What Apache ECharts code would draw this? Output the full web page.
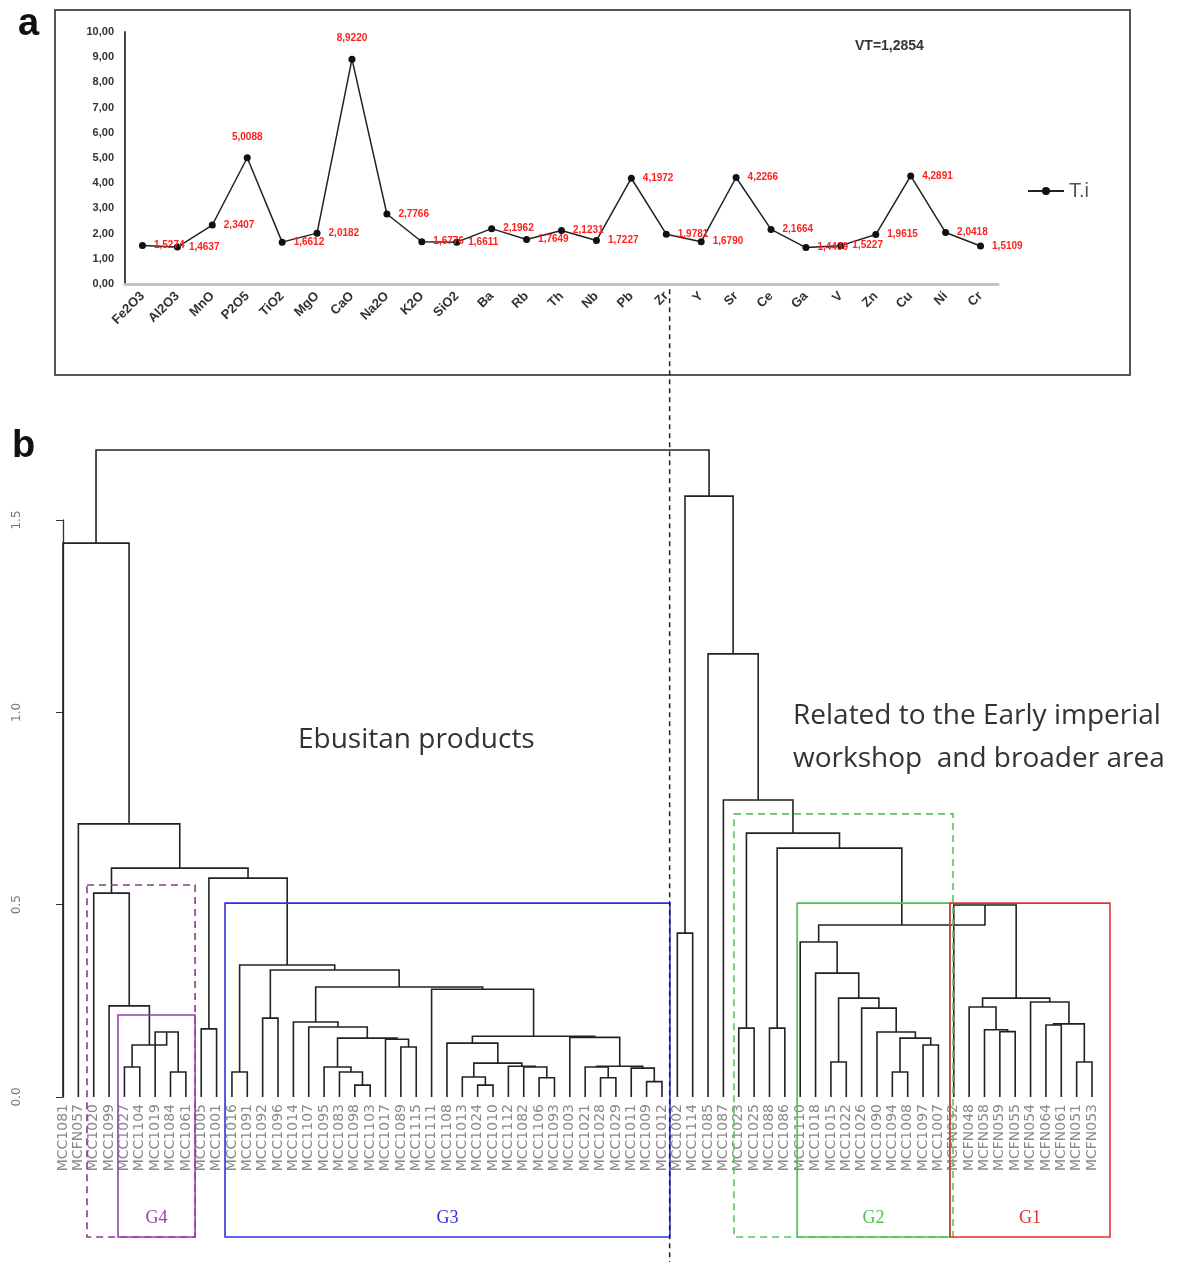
<!DOCTYPE html>
<html>
<head>
<meta charset="utf-8">
<script src="https://cdn.jsdelivr.net/npm/echarts@6/dist/echarts.min.js"></script>
<style>
  html, body { margin: 0; padding: 0; background: #fff; }
  #chart { width: 1190px; height: 1262px; }
</style>
</head>
<body>
<div id="chart"></div>
<script>
// panel a: T.i per element
const elements = ['Fe2O3', 'Al2O3', 'MnO', 'P2O5', 'TiO2', 'MgO', 'CaO', 'Na2O', 'K2O', 'SiO2',
  'Ba', 'Rb', 'Th', 'Nb', 'Pb', 'Zr', 'Y', 'Sr', 'Ce', 'Ga', 'V', 'Zn', 'Cu', 'Ni', 'Cr'];
const tiValues = [1.5274, 1.4637, 2.3407, 5.0088, 1.6612, 2.0182, 8.9220, 2.7766, 1.6776, 1.6611,
  2.1962, 1.7649, 2.1231, 1.7227, 4.1972, 1.9781, 1.6790, 4.2266, 2.1664, 1.4439,
  1.5227, 1.9615, 4.2891, 2.0418, 1.5109];
const peakLabels = ['P2O5', 'CaO'];
const vtText = 'VT=1,2854';

// panel b: leaves in plotting order
const leafNames = [
  'MCC1081', 'MCFN057', 'MCC1020', 'MCC1099', 'MCC1027', 'MCC1104', 'MCC1019', 'MCC1084', 'MCC1061', 'MCC1005',
  'MCC1001', 'MCC1016', 'MCC1091', 'MCC1092', 'MCC1096', 'MCC1014', 'MCC1107', 'MCC1095', 'MCC1083', 'MCC1098',
  'MCC1103', 'MCC1017', 'MCC1089', 'MCC1115', 'MCC1111', 'MCC1108', 'MCC1013', 'MCC1024', 'MCC1010', 'MCC1112',
  'MCC1082', 'MCC1106', 'MCC1093', 'MCC1003', 'MCC1021', 'MCC1028', 'MCC1029', 'MCC1011', 'MCC1009', 'MCC1012',
  'MCC1002', 'MCC1114', 'MCC1085', 'MCC1087', 'MCC1023', 'MCC1025', 'MCC1088', 'MCC1086', 'MCC1110', 'MCC1018',
  'MCC1015', 'MCC1022', 'MCC1026', 'MCC1090', 'MCC1094', 'MCC1008', 'MCC1097', 'MCC1007', 'MCFN052', 'MCFN048',
  'MCFN058', 'MCFN059', 'MCFN055', 'MCFN054', 'MCFN064', 'MCFN061', 'MCFN051', 'MCFN053'
];

// merges: [id, left, right, height]; numbers are leaves, strings are earlier merges
const merges = [
  ['a1', 4, 5, 0.078], ['a2', 7, 8, 0.065], ['a3', 6, 'a2', 0.169], ['a4', 'a1', 'a3', 0.135],
  ['a5', 3, 'a4', 0.237], ['a6', 2, 'a5', 0.530],
  ['b1', 9, 10, 0.177], ['b2', 11, 12, 0.065], ['b3', 13, 14, 0.205],
  ['c1', 19, 20, 0.031], ['c2', 18, 'c1', 0.065], ['c3', 17, 'c2', 0.078], ['c4', 22, 23, 0.130],
  ['c5', 21, 'c4', 0.150], ['c6', 'c3', 'c5', 0.153], ['c7', 16, 'c6', 0.182], ['c8', 15, 'c7', 0.195],
  ['d1', 27, 28, 0.031], ['d2', 26, 'd1', 0.052], ['d3', 31, 32, 0.050], ['d4', 30, 'd3', 0.078],
  ['d5', 29, 'd4', 0.080], ['d6', 'd2', 'd5', 0.088], ['d7', 25, 'd6', 0.140],
  ['e1', 38, 39, 0.040], ['e2', 37, 'e1', 0.075], ['e3', 35, 36, 0.050], ['e4', 34, 'e3', 0.078],
  ['e5', 'e4', 'e2', 0.080], ['e6', 33, 'e5', 0.155], ['e7', 'd7', 'e6', 0.158],
  ['f1', 24, 'e7', 0.280], ['f2', 'c8', 'f1', 0.286], ['f3', 'b3', 'f2', 0.330], ['f4', 'b2', 'f3', 0.343],
  ['f5', 'b1', 'f4', 0.569], ['f6', 'a6', 'f5', 0.595], ['f7', 1, 'f6', 0.710], ['f8', 0, 'f7', 1.440],
  ['g1', 40, 41, 0.426], ['g2', 44, 45, 0.179], ['g3', 46, 47, 0.179],
  ['h1', 50, 51, 0.091], ['h2', 54, 55, 0.065], ['h3', 56, 57, 0.135], ['h4', 'h2', 'h3', 0.153],
  ['h5', 53, 'h4', 0.169], ['h6', 52, 'h5', 0.231], ['h7', 'h1', 'h6', 0.257], ['h8', 49, 'h7', 0.322],
  ['h9', 48, 'h8', 0.403],
  ['i1', 61, 62, 0.170], ['i2', 60, 'i1', 0.175], ['i3', 59, 'i2', 0.234], ['i4', 66, 67, 0.091],
  ['i5', 64, 65, 0.187], ['i6', 'i5', 'i4', 0.190], ['i7', 63, 'i6', 0.247], ['i8', 'i3', 'i7', 0.257],
  ['i9', 58, 'i8', 0.499],
  ['j1', 'h9', 'i9', 0.447], ['j2', 'g3', 'j1', 0.647], ['j3', 'g2', 'j2', 0.686], ['j4', 43, 'j3', 0.772],
  ['j5', 42, 'j4', 1.152], ['j6', 'g1', 'j5', 1.562], ['root', 'f8', 'j6', 1.682]
];

// group boxes in axis units (leaf index, height)
const groups = [
  { label: '', x0: 1.56, x1: 8.6, top: 0.551, color: '#8a3a8a', dashed: true },
  { label: 'G4', x0: 3.58, x1: 8.6, top: 0.213, color: '#9b3fb0', dashed: false },
  { label: 'G3', x0: 10.55, x1: 39.52, top: 0.504, color: '#2f2fe0', dashed: false },
  { label: '', x0: 43.69, x1: 57.95, top: 0.736, color: '#5cc45c', dashed: true },
  { label: 'G2', x0: 47.8, x1: 57.75, top: 0.504, color: '#4cc44c', dashed: false },
  { label: 'G1', x0: 57.75, x1: 68.17, top: 0.504, color: '#e53030', dashed: false }
];
const boxBottom = -0.364;
const splitLeaf = 39.5;

// build link segments from merges
const nodeX = {}, nodeH = {};
const xOf = (n) => typeof n === 'number' ? n : nodeX[n];
const hOf = (n) => typeof n === 'number' ? 0 : nodeH[n];
const links = merges.map(([id, l, r, h]) => {
  nodeX[id] = (xOf(l) + xOf(r)) / 2;
  nodeH[id] = h;
  return [xOf(l), h, xOf(r), hOf(l), hOf(r)];
});

const fmtComma = (v, d) => v.toFixed(d).replace('.', ',');

const chart = echarts.init(document.getElementById('chart'));
const option = {
  animation: false,
  legend: {
    data: ['T.i'],
    left: 1022, top: 176,
    itemWidth: 36, itemHeight: 10,
    textStyle: { fontSize: 20, color: '#555', fontFamily: 'Liberation Sans' }
  },
  grid: [
    { left: 125, top: 32, width: 873, height: 252 },
    { left: 63, top: 520, width: 1029, height: 577 }
  ],
  xAxis: [
    {
      gridIndex: 0, type: 'category', data: elements, boundaryGap: true,
      axisLine: { lineStyle: { color: '#c4c4c4', width: 3 } },
      axisTick: { show: false },
      axisLabel: { rotate: 45, margin: 10, fontSize: 13, fontWeight: 'bold', color: '#333', fontFamily: 'Liberation Sans' }
    },
    {
      gridIndex: 1, type: 'value', min: 0, max: 67, interval: 1,
      axisLine: { show: false }, axisTick: { show: false }, splitLine: { show: false },
      axisLabel: {
        rotate: 90, margin: 7, fontSize: 14, color: '#8a8a8a', fontFamily: 'DejaVu Sans',
        formatter: (v) => leafNames[v] || ''
      }
    }
  ],
  yAxis: [
    {
      gridIndex: 0, type: 'value', min: 0, max: 10, interval: 1,
      axisLine: { show: true, lineStyle: { color: '#444', width: 2 } },
      axisTick: { show: false }, splitLine: { show: false },
      axisLabel: { fontSize: 11, fontWeight: 'bold', color: '#333', fontFamily: 'Liberation Sans', margin: 11,
        formatter: (v) => fmtComma(v, 2) }
    },
    {
      gridIndex: 1, type: 'value', min: 0, max: 1.5, interval: 0.5, offset: 18,
      axisLine: { show: true, lineStyle: { color: '#333', width: 1.3 } },
      axisTick: { show: true, length: 7, lineStyle: { color: '#333' } },
      splitLine: { show: false },
      axisLabel: { rotate: 90, fontSize: 12, color: '#777', fontFamily: 'DejaVu Sans', margin: 22,
        formatter: (v) => v.toFixed(1) }
    }
  ],
  series: [
    {
      name: 'T.i', type: 'line', xAxisIndex: 0, yAxisIndex: 0,
      data: tiValues.map((v, i) => ({
        value: v,
        label: peakLabels.includes(elements[i]) ? { position: 'top', distance: 12 } : undefined
      })),
      symbol: 'circle', symbolSize: 7,
      itemStyle: { color: '#111' },
      lineStyle: { color: '#222', width: 1.5 },
      label: {
        show: true, position: 'right', distance: 8, fontSize: 10, fontWeight: 'bold',
        color: '#ff2020', fontFamily: 'Liberation Sans',
        formatter: (p) => fmtComma(p.value, 4)
      }
    },
    {
      name: 'tree', type: 'custom', xAxisIndex: 1, yAxisIndex: 1, clip: false, z: 3,
      data: links,
      encode: { x: [0, 2], y: [1, 3, 4] },
      renderItem: (params, api) => {
        const xl = api.value(0), h = api.value(1), xr = api.value(2);
        const pts = [
          api.coord([xl, api.value(3)]), api.coord([xl, h]),
          api.coord([xr, h]), api.coord([xr, api.value(4)])
        ];
        return { type: 'polyline', shape: { points: pts }, style: { stroke: '#222', lineWidth: 1.6, fill: null } };
      }
    },
    {
      name: 'groups', type: 'custom', xAxisIndex: 1, yAxisIndex: 1, clip: false, z: 4,
      data: groups.map((g) => [g.x0, g.top, g.x1, boxBottom]),
      encode: { x: [0, 2], y: [1, 3] },
      renderItem: (params, api) => {
        const g = groups[params.dataIndex];
        const p1 = api.coord([api.value(0), api.value(1)]);
        const p2 = api.coord([api.value(2), api.value(3)]);
        const children = [{
          type: 'rect',
          shape: { x: p1[0], y: p1[1], width: p2[0] - p1[0], height: p2[1] - p1[1] },
          style: { fill: null, stroke: g.color, lineWidth: 1.6, lineDash: g.dashed ? [7, 5] : null }
        }];
        if (g.label) {
          children.push({
            type: 'text', x: (p1[0] + p2[0]) / 2, y: p2[1] - 19,
            style: { text: g.label, fill: g.color, font: '18px "Liberation Serif"', align: 'center', verticalAlign: 'middle' }
          });
        }
        return { type: 'group', children };
      }
    },
    {
      name: 'split', type: 'custom', xAxisIndex: 1, yAxisIndex: 1, clip: false, z: 5,
      data: [[splitLeaf, 2.1, -0.43]],
      encode: { x: 0, y: [1, 2] },
      renderItem: (params, api) => {
        const a = api.coord([api.value(0), api.value(1)]);
        const b = api.coord([api.value(0), api.value(2)]);
        return { type: 'line', shape: { x1: a[0], y1: a[1], x2: b[0], y2: b[1] },
          style: { stroke: '#222', lineWidth: 1.5, lineDash: [5, 4] } };
      }
    }
  ],
  graphic: [
    { type: 'rect', shape: { x: 55, y: 10, width: 1075, height: 365 }, style: { fill: null, stroke: '#555', lineWidth: 2 } },
    { type: 'text', left: 18, top: 6, style: { text: 'a', font: 'bold 38px "Liberation Sans"', fill: '#111' } },
    { type: 'text', left: 12, top: 428, style: { text: 'b', font: 'bold 38px "Liberation Sans"', fill: '#111' } },
    { type: 'text', left: 855, top: 39, style: { text: vtText, font: 'bold 14px "Liberation Sans"', fill: '#333' } },
    { type: 'text', left: 298, top: 726, style: { text: 'Ebusitan products', font: '28px "Open Sans"', fill: '#333' } },
    { type: 'text', left: 793, top: 702, style: { text: 'Related to the Early imperial', font: '28px "Open Sans"', fill: '#333' } },
    { type: 'text', left: 793, top: 745, style: { text: 'workshop  and broader area', font: '28px "Open Sans"', fill: '#333' } }
  ]
};
chart.setOption(option);
</script>
</body>
</html>
